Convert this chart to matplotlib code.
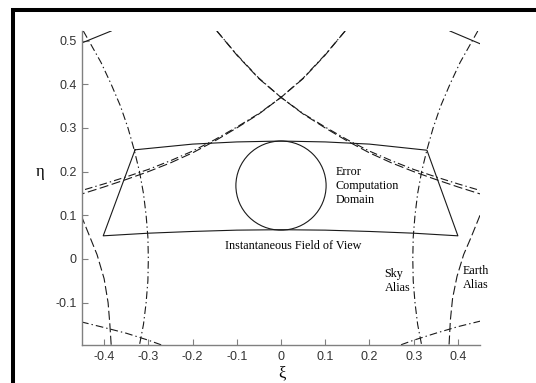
from matplotlib import pyplot as plt
from matplotlib.patches import Circle, Rectangle

plt.rcParams['axes.unicode_minus'] = False
plt.rcParams['lines.scale_dashes'] = False

## instantaneous field of view boundary (closed, solid)
fov_xi  = [-0.330, -0.20, -0.10, 0.0, 0.10, 0.20, 0.330, 0.400, 0.30, 0.20, 0.10, 0.0, -0.10, -0.20, -0.30, -0.402, -0.330]
fov_eta = [0.250, 0.263, 0.268, 0.270, 0.268, 0.263, 0.249, 0.053, 0.059, 0.063, 0.066, 0.067, 0.066, 0.063, 0.059, 0.053, 0.250]

## error computation domain (circle)
domain_center = (0.0, 0.168)
domain_radius = 0.102

## sky alias arcs (dash-dot), left and right
sky_eta      = [0.522, 0.45, 0.40, 0.35, 0.30, 0.25, 0.20, 0.15, 0.10, 0.05, 0.0, -0.05, -0.10, -0.15, -0.197]
sky_left_xi  = [-0.447, -0.407, -0.384, -0.363, -0.346, -0.332, -0.320, -0.311, -0.305, -0.301, -0.300, -0.301, -0.305, -0.311, -0.320]
sky_right_xi = [0.445, 0.405, 0.382, 0.361, 0.344, 0.330, 0.318, 0.309, 0.303, 0.299, 0.298, 0.299, 0.303, 0.309, 0.318]

## earth alias arcs (dashed), left and right
earth_left_xi   = [-0.452, -0.432, -0.416, -0.400, -0.391, -0.387, -0.384]
earth_left_eta  = [0.100, 0.050, 0.010, -0.045, -0.100, -0.150, -0.197]
earth_right_xi  = [0.450, 0.430, 0.413, 0.398, 0.388, 0.383, 0.380]
earth_right_eta = [0.100, 0.050, 0.010, -0.040, -0.090, -0.140, -0.197]

## lower sky alias pieces (dash-dot)
low_left_xi   = [-0.452, -0.40, -0.35, -0.30, -0.27]
low_left_eta  = [-0.144, -0.157, -0.170, -0.186, -0.197]
low_right_xi  = [0.452, 0.40, 0.35, 0.30, 0.27]
low_right_eta = [-0.142, -0.155, -0.170, -0.186, -0.197]

## crossing alias pairs through the top (mirrored for the other branch)
cross_xi     = [-0.145, -0.10, -0.05, 0.0, 0.05, 0.10, 0.15, 0.20, 0.25, 0.30, 0.35, 0.40, 0.45]
cross_eta_dd = [0.522, 0.468, 0.414, 0.370, 0.333, 0.302, 0.273, 0.247, 0.225, 0.205, 0.188, 0.172, 0.157]
cross_eta_da = [0.522, 0.467, 0.413, 0.370, 0.332, 0.300, 0.270, 0.243, 0.220, 0.200, 0.182, 0.165, 0.149]

## neighbouring field of view edges in the top corners (solid)
corner_left_xi   = [-0.452, -0.384]
corner_left_eta  = [0.494, 0.522]
corner_right_xi  = [0.382, 0.452]
corner_right_eta = [0.522, 0.492]

x_ticks = [-0.4, -0.3, -0.2, -0.1, 0, 0.1, 0.2, 0.3, 0.4]
y_ticks = [-0.1, 0, 0.1, 0.2, 0.3, 0.4, 0.5]

DASH = (0, (6.5, 2.5))
DASHDOT = (0, (5.5, 2.2, 1.0, 2.2))
line_col = '#1a1a1a'
lw = 0.8

fig = plt.figure(figsize=(5.36, 3.83), dpi=100)
ax = fig.add_axes([82/536, 38/383, 398/536, 314/383])

ax.plot(fov_xi, fov_eta, '-', color=line_col, lw=lw)
ax.add_patch(Circle(domain_center, domain_radius, fill=False, ec=line_col, lw=lw))

ax.plot(sky_left_xi, sky_eta, color=line_col, lw=lw, linestyle=DASHDOT)
ax.plot(sky_right_xi, sky_eta, color=line_col, lw=lw, linestyle=DASHDOT)
ax.plot(earth_left_xi, earth_left_eta, color=line_col, lw=lw, linestyle=DASH)
ax.plot(earth_right_xi, earth_right_eta, color=line_col, lw=lw, linestyle=DASH)
ax.plot(low_left_xi, low_left_eta, color=line_col, lw=lw, linestyle=DASHDOT)
ax.plot(low_right_xi, low_right_eta, color=line_col, lw=lw, linestyle=DASHDOT)

mirror_xi = [-x for x in cross_xi]
ax.plot(cross_xi, cross_eta_dd, color=line_col, lw=lw, linestyle=DASHDOT)
ax.plot(cross_xi, cross_eta_da, color=line_col, lw=lw, linestyle=DASH)
ax.plot(mirror_xi, cross_eta_dd, color=line_col, lw=lw, linestyle=DASHDOT)
ax.plot(mirror_xi, cross_eta_da, color=line_col, lw=lw, linestyle=DASH)

ax.plot(corner_left_xi, corner_left_eta, '-', color=line_col, lw=lw)
ax.plot(corner_right_xi, corner_right_eta, '-', color=line_col, lw=lw)

## annotations
serif = ['Liberation Serif', 'DejaVu Serif']
tsize = 8.7
ax.text(0.123, 0.167, 'Error\nComputation\nDomain', family=serif, fontsize=tsize,
        ha='left', va='center', linespacing=1.25)
ax.text(0.027, 0.030, 'Instantaneous Field of View', family=serif, fontsize=tsize,
        ha='center', va='center')
ax.text(0.234, -0.050, 'Sky\nAlias', family=serif, fontsize=tsize,
        ha='left', va='center', linespacing=1.25)
ax.text(0.411, -0.044, 'Earth\nAlias', family=serif, fontsize=tsize,
        ha='left', va='center', linespacing=1.25)

ax.set_xlim(-0.45, 0.45)
ax.set_ylim(-0.197, 0.522)
ax.set_xticks(x_ticks)
ax.set_yticks(y_ticks)
ax.set_xticklabels([f'{v:g}' for v in x_ticks])
ax.set_yticklabels([f'{v:g}' for v in y_ticks])

for side in ['top', 'right']:
    ax.spines[side].set_visible(False)
for side in ['left', 'bottom']:
    ax.spines[side].set_color('#808080')
    ax.spines[side].set_linewidth(1.0)
ax.tick_params(direction='in', length=4, width=0.8, color='#808080',
               labelsize=9, labelcolor='#333333', pad=4)
for lab in ax.get_xticklabels() + ax.get_yticklabels():
    lab.set_family(['Liberation Sans', 'DejaVu Sans'])

ax.set_xlabel('ξ', family=serif, fontsize=12)
ax.set_ylabel('η', family=serif, fontsize=12, rotation=0)
ax.xaxis.set_label_coords(0.503, -0.09)
ax.yaxis.set_label_coords(-0.106, 0.551)
ax.xaxis.label.set_va('center')
ax.yaxis.label.set_va('center')

## heavy frame, left and top edges visible
fig.add_artist(Rectangle((12.5/536, -0.2), 1.2, 1.2 - 10/383,
                         transform=fig.transFigure, fill=False, ec='black', lw=2.9,
                         clip_on=False))

fig.savefig('out.png', dpi=100)
